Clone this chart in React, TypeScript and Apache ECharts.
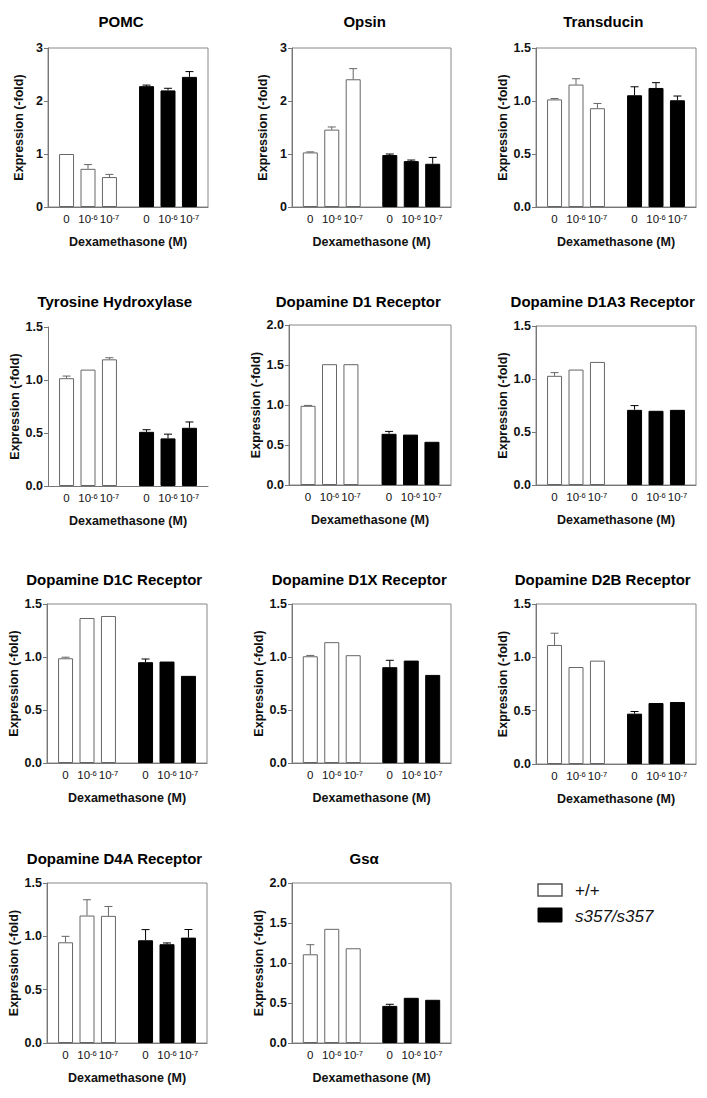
import React, { useEffect, useRef } from "react";
import * as echarts from "echarts";

// ---------- data ----------
const PANEL_TITLES = [
  "POMC", "Opsin", "Transducin",
  "Tyrosine Hydroxylase", "Dopamine D1 Receptor", "Dopamine D1A3 Receptor",
  "Dopamine D1C Receptor", "Dopamine D1X Receptor", "Dopamine D2B Receptor",
  "Dopamine D4A Receptor", "Gsα",
];
const GENOTYPES = ["+/+", "s357/s357"];
const DOSES = ["0", "10^-6", "10^-7"];
const DOSE_LABELS = ["0", "10{sup|-6}", "10{sup|-7}"];

// mean expression per panel, doses 0, 10^-6, 10^-7
const WT_MEAN = [
  [1.0, 0.72, 0.565],
  [1.03, 1.46, 2.41],
  [1.015, 1.155, 0.932],
  [1.017, 1.098, 1.195],
  [0.99, 1.51, 1.51],
  [1.03, 1.089, 1.161],
  [0.988, 1.368, 1.387],
  [1.007, 1.14, 1.017],
  [1.116, 0.909, 0.969],
  [0.944, 1.195, 1.192],
  [1.109, 1.427, 1.184],
];
const WT_ERR = [
  [0, 0.08, 0.05],
  [0.01, 0.05, 0.2],
  [0.008, 0.055, 0.045],
  [0.02, 0, 0.015],
  [0.005, 0, 0],
  [0.03, 0, 0],
  [0.01, 0, 0],
  [0.008, 0, 0],
  [0.11, 0, 0],
  [0.056, 0.148, 0.088],
  [0.12, 0, 0],
];
const MUT_MEAN = [
  [2.28, 2.2, 2.455],
  [0.98, 0.866, 0.816],
  [1.054, 1.123, 1.007],
  [0.511, 0.449, 0.549],
  [0.64, 0.63, 0.54],
  [0.709, 0.7, 0.709],
  [0.951, 0.957, 0.822],
  [0.904, 0.966, 0.831],
  [0.472, 0.572, 0.581],
  [0.963, 0.926, 0.988],
  [0.464, 0.565, 0.54],
];
const MUT_ERR = [
  [0.02, 0.04, 0.1],
  [0.02, 0.02, 0.12],
  [0.08, 0.05, 0.04],
  [0.02, 0.04, 0.055],
  [0.03, 0, 0],
  [0.04, 0, 0],
  [0.03, 0, 0],
  [0.065, 0, 0],
  [0.02, 0, 0],
  [0.1, 0.012, 0.076],
  [0.02, 0, 0],
];
const Y_MAX = [3, 3, 1.5, 1.5, 2, 1.5, 1.5, 1.5, 1.5, 1.5, 2];
const Y_STEP = [1, 1, 0.5, 0.5, 0.5, 0.5, 0.5, 0.5, 0.5, 0.5, 0.5];

// ---------- layout ----------
const BOXES = [
  [48, 48, 208, 207], [292, 48, 451, 207], [536, 48, 696, 207],
  [48, 327, 208, 486], [289, 325, 451, 485], [536, 326, 696, 485],
  [47, 604, 207, 763], [292, 604, 451, 763], [536, 604, 696, 764],
  [47, 883, 207, 1043], [292, 883, 451, 1043],
];
const TITLE_POS = [
  [121, 22], [364.7, 22], [603.3, 22],
  [114.8, 301.7], [358.3, 301.7], [602.7, 301.7],
  [114.2, 580], [359.2, 580], [602.7, 580],
  [114.5, 859], [364.2, 859],
];
const NO_BOX = [3];
const BAR_W = 15;
const BAR_GAP = 0.43;
const BAR_STEP = BAR_W * (1 + BAR_GAP);
const FONT = '"Liberation Sans", Arial, Helvetica, sans-serif';
const AXIS_GRAY = "#777";
const WT_STYLE = { color: "#ffffff", borderColor: "#666", borderWidth: 1 };
const MUT_STYLE = { color: "#000000", borderColor: "#000", borderWidth: 1 };

function buildOption() {
  const n = PANEL_TITLES.length;
  const title: any[] = [];
  const grid: any[] = [];
  const xAxis: any[] = [];
  const yAxis: any[] = [];
  const series: any[] = [];

  for (let i = 0; i < n; i++) {
    const b = BOXES[i];
    title.push({
      text: PANEL_TITLES[i],
      left: TITLE_POS[i][0],
      top: TITLE_POS[i][1] - 8,
      textAlign: "center",
      padding: 0,
      textStyle: { fontSize: 15, fontWeight: "bold", fontFamily: FONT, color: "#000" },
    });
    grid.push({
      left: b[0],
      top: b[1],
      width: b[2] - b[0],
      height: b[3] - b[1],
      show: NO_BOX.indexOf(i) < 0,
      borderColor: "#888",
      borderWidth: 1,
      backgroundColor: "transparent",
      containLabel: false,
    });
    xAxis.push({
      gridIndex: i,
      type: "category",
      data: GENOTYPES,
      axisLine: { show: true, lineStyle: { color: AXIS_GRAY, width: 1 } },
      axisTick: { show: false },
      axisLabel: { show: false },
      splitLine: { show: false },
      name: "Dexamethasone (M)",
      nameLocation: "middle",
      nameGap: 28,
      nameTextStyle: { fontSize: 12.5, fontWeight: "bold", fontFamily: FONT, color: "#111" },
    });
    const step = Y_STEP[i];
    yAxis.push({
      gridIndex: i,
      type: "value",
      min: 0,
      max: Y_MAX[i],
      interval: step,
      axisLine: { show: true, lineStyle: { color: AXIS_GRAY, width: 1 } },
      axisTick: { show: true, length: 4, lineStyle: { color: AXIS_GRAY } },
      splitLine: { show: false },
      axisLabel: {
        fontSize: 12.5,
        fontWeight: "bold",
        fontFamily: FONT,
        color: "#111",
        margin: 5,
        formatter: (v: number) => (step < 1 ? v.toFixed(1) : String(v)),
      },
      name: "Expression (-fold)",
      nameLocation: "middle",
      nameGap: 23,
      nameTextStyle: { fontSize: 12.5, fontWeight: "bold", fontFamily: FONT, color: "#111" },
    });

    for (let d = 0; d < DOSES.length; d++) {
      series.push({
        type: "bar",
        name: DOSES[d],
        xAxisIndex: i,
        yAxisIndex: i,
        barWidth: BAR_W,
        barGap: BAR_GAP * 100 + "%",
        data: [
          { value: WT_MEAN[i][d], itemStyle: WT_STYLE },
          { value: MUT_MEAN[i][d], itemStyle: MUT_STYLE },
        ],
        label: {
          show: true,
          position: "bottom",
          distance: 6,
          formatter: DOSE_LABELS[d],
          fontSize: 11.5,
          fontFamily: FONT,
          color: "#111",
          rich: {
            sup: { fontSize: 7.5, fontFamily: FONT, color: "#111", verticalAlign: "top", lineHeight: 8 },
          },
        },
        emphasis: { disabled: true },
        z: 2,
      });
    }

    const errData: any[] = [];
    for (let d = 0; d < DOSES.length; d++) {
      if (WT_ERR[i][d] > 0) errData.push([0, d, WT_MEAN[i][d], WT_ERR[i][d]]);
      if (MUT_ERR[i][d] > 0) errData.push([1, d, MUT_MEAN[i][d], MUT_ERR[i][d]]);
    }
    series.push({
      type: "custom",
      xAxisIndex: i,
      yAxisIndex: i,
      encode: { x: 0, y: 2 },
      data: errData,
      z: 5,
      silent: true,
      renderItem: (_params: any, api: any) => {
        const cat = api.value(0);
        const dose = api.value(1);
        const mean = api.value(2);
        const err = api.value(3);
        const base = api.coord([cat, mean]);
        const top = api.coord([cat, mean + err]);
        const x = base[0] + (dose - 1) * BAR_STEP;
        const stroke = cat === 0 ? "#666" : "#000";
        return {
          type: "group",
          children: [
            { type: "line", shape: { x1: x, y1: base[1], x2: x, y2: top[1] }, style: { stroke, lineWidth: 1 } },
            { type: "line", shape: { x1: x - 4, y1: top[1], x2: x + 4, y2: top[1] }, style: { stroke, lineWidth: 1 } },
          ],
        };
      },
    });
  }

  const graphic = [
    { type: "rect", shape: { x: 538, y: 884, width: 24, height: 12 }, style: { fill: "#fff", stroke: "#555", lineWidth: 1.5 } },
    { type: "rect", shape: { x: 538, y: 908, width: 24, height: 14 }, style: { fill: "#000", stroke: "#000", lineWidth: 1 } },
    { type: "text", x: 575, y: 890, style: { text: GENOTYPES[0], fontSize: 17, fontFamily: FONT, fill: "#111", verticalAlign: "middle" } },
    { type: "text", x: 575, y: 916, style: { text: GENOTYPES[1], fontSize: 17, fontStyle: "italic", fontFamily: FONT, fill: "#111", verticalAlign: "middle" } },
  ];

  return { animation: false, backgroundColor: "#fff", title, grid, xAxis, yAxis, series, graphic };
}

export default function App() {
  const ref = useRef<HTMLDivElement>(null);
  useEffect(() => {
    document.body.style.margin = "0";
    if (!ref.current) return;
    const chart = echarts.init(ref.current, null, { renderer: "svg" });
    chart.setOption(buildOption() as any);
    return () => chart.dispose();
  }, []);
  return <div ref={ref} style={{ width: 707, height: 1098 }} />;
}
